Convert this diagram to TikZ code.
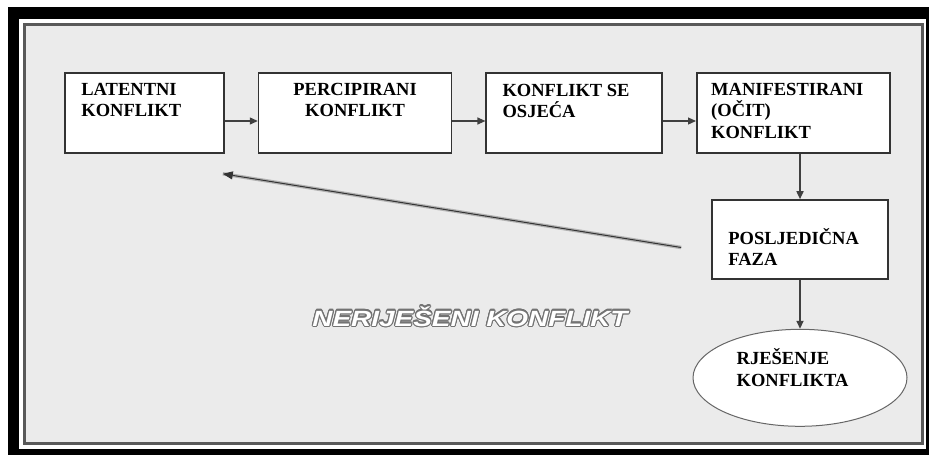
\documentclass[tikz,border=0pt]{standalone}
\usepackage{fontspec}
\setmainfont{Liberation Serif}
\newfontfamily\headfont[FakeStretch=1.27]{Liberation Sans}
\usepackage{contour}
\usepackage{tikz}
\usetikzlibrary{positioning}
\usetikzlibrary{shapes,arrows.meta}
\contourlength{1.1pt}
\contournumber{16}

\tikzset{
  phase/.style={draw=black!80, line width=1.6pt, fill=white, rectangle, minimum height=80pt, inner sep=0pt},
  phasetext/.style={font=\bfseries\fontsize{18.5}{21.5}\selectfont, inner sep=0pt, align=left, anchor=north west},
  flow/.style={-{Triangle[length=8pt,width=7pt]}, line width=1.2pt, draw=black!75},
}
\newcommand{\tstrut}{\rule{0pt}{17pt}}

\begin{document}
\begin{tikzpicture}[x=1pt, y=-1pt, node distance=33pt]
  % Frame
  \useasboundingbox (0,0) rectangle (929,455);
  \fill[white] (0,0) rectangle (929,455);
  \fill[black] (8,7) rectangle (929,455);
  \fill[white] (19,19) rectangle (926,449);
  \filldraw[fill=black!8, draw=black!65, line width=3pt] (24,24) rectangle (922,443);

  % Nodes
  \node [phase, minimum width=159pt] (latent) at (144.5,113) {};
  \node [phase, minimum width=193pt, right=33pt of latent] (percip) {};
  \node [phase, minimum width=176pt, right=33pt of percip] (felt) {};
  \node [phase, minimum width=193pt, right=33pt of felt] (manif) {};
  \node [phase, minimum width=176pt, minimum height=79pt] (conseq) at (800,239.5) {};
  \node [ellipse, draw=black!60, line width=1pt, fill=white, minimum width=214pt,
         minimum height=97pt, inner sep=0pt, below=49pt of conseq] (resol) {};

  % Texts
  \node [phasetext] (latentlbl) at ([shift={(17,6)}]latent.north west) {\tstrut LATENTNI\\KONFLIKT};
  \node [phasetext, anchor=north, align=center] (perciplbl) at ([shift={(0,6)}]percip.north) {\tstrut PERCIPIRANI\\KONFLIKT};
  \node [phasetext] (feltlbl) at ([shift={(17,7)}]felt.north west) {\tstrut KONFLIKT SE\\OSJEĆA};
  \node [phasetext] (maniflbl) at ([shift={(15,6)}]manif.north west) {\tstrut MANIFESTIRANI\\(OČIT)\\KONFLIKT};
  \node [phasetext] (conseqlbl) at ([shift={(17,28)}]conseq.north west) {\tstrut POSLJEDIČNA\\FAZA};
  \node [phasetext] (resollbl) at ([shift={(44,-30.5)}]resol.west) {\tstrut RJEŠENJE\\KONFLIKTA};
  \node [font=\headfont\bfseries\itshape\fontsize{22}{24}\selectfont, text=white, anchor=base]
    (unres) at (470,326) {\contour{black!55}{NERIJEŠENI KONFLIKT}};

  % Arrows
  \draw [flow] ([shift={(0,8)}]latent.east) -- ([shift={(0,8)}]percip.west);
  \draw [flow] ([shift={(0,8)}]percip.east) -- ([shift={(0,8)}]felt.west);
  \draw [flow] ([shift={(0,8)}]felt.east) -- ([shift={(0,8)}]manif.west);
  \draw [flow, line width=1.6pt] (manif.south -| conseq.north) -- (conseq);
  \draw [flow, line width=1.6pt] (conseq) -- (resol);

  % Back arrow
  \coordinate (backstart) at ([shift={(-30,8)}]conseq.west);
  \coordinate (backend) at ([shift={(-2,20)}]latent.south east);
  \draw [line width=3.5pt, black!30] (backstart) -- (backend);
  \draw [-{Triangle[length=10pt,width=8pt]}, line width=1pt, black!80] (backstart) -- (backend);
\end{tikzpicture}
\end{document}
